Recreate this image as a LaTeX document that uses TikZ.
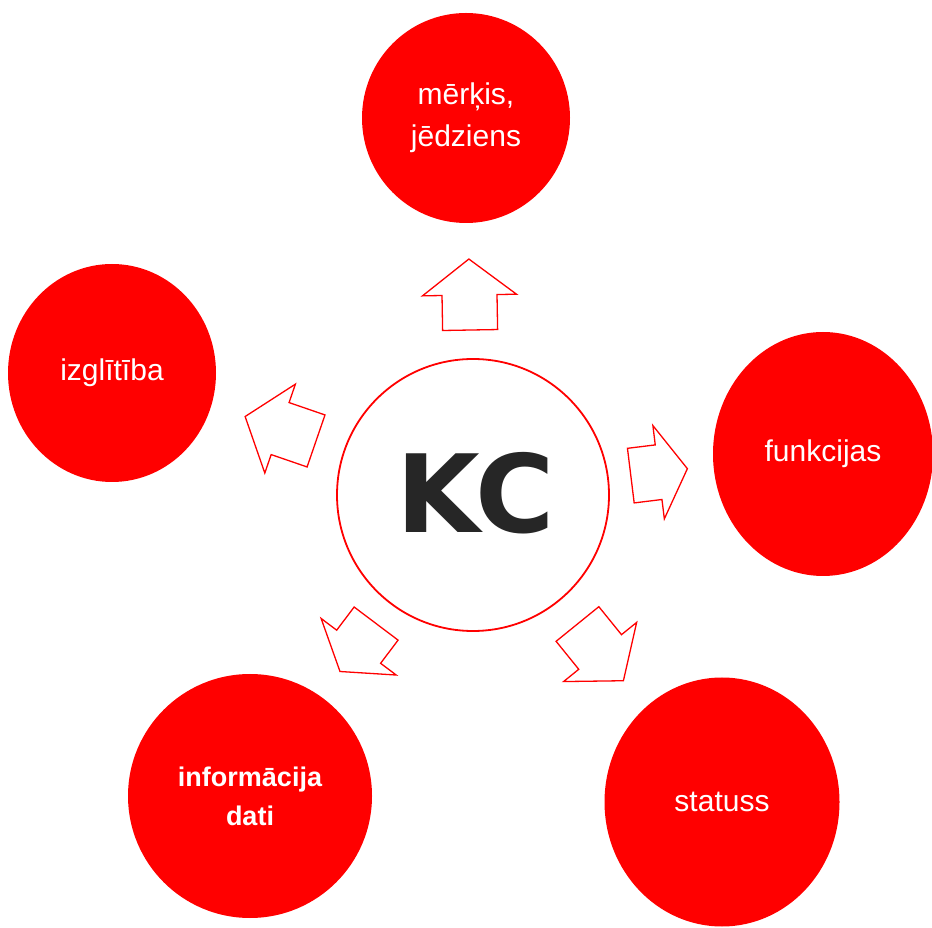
\documentclass[tikz,border=0pt]{standalone}
\usepackage{fontspec}
\setmainfont{Liberation Sans}
\newfontfamily\kcfont{DejaVu Sans}
\usetikzlibrary{shapes.geometric}
\definecolor{bubblered}{HTML}{FF0000}
\definecolor{kcgray}{HTML}{262626}

\begin{document}
\begin{tikzpicture}[x=1pt, y=1pt,
    bubble/.style={ellipse, fill=bubblered, inner sep=0pt, text=white, align=center,
                   font=\fontsize{30}{42}\selectfont},
    blockarrow/.style={draw=bubblered, line width=1.3pt, fill=white, line join=miter}]
  \useasboundingbox (0,0) rectangle (932,927);
  % centre
  \node[circle, draw=bubblered, line width=1.8pt, minimum size=272pt, inner sep=0pt] (kc) at (473,432) {};
  \node[font=\kcfont\bfseries\fontsize{108}{108}\selectfont, text=kcgray] (kclabel) at (476,434) {KC};
  % outer bubbles
  \node[bubble, minimum width=208pt, minimum height=210pt] (merkis) at (466,809) {mērķis,\\jēdziens};
  \node[bubble, minimum width=208pt, minimum height=218pt] (izglitiba) at (112,554) {izglītība};
  \node[bubble, minimum width=220pt, minimum height=244pt] (funkcijas) at (823,473) {funkcijas};
  \node[bubble, minimum width=244pt, minimum height=244pt,
        font=\bfseries\fontsize{27}{39}\selectfont] (informacija) at (250,131) {informācija\\dati};
  \node[bubble, minimum width=235pt, minimum height=249pt] (statuss) at (722,125) {statuss};
  % arrows
  \foreach \ang/\dist/\len/\hd in {91/165/71/36, 161/166/75/37, 7/159/57/29, 233/161/60/31, 309/166/73/37}{
    \begin{scope}[shift={(kc.center)}, rotate=\ang]
      \draw[blockarrow] (\dist,-27.5) -- ({\dist+\len-\hd},-27.5) -- ({\dist+\len-\hd},-47)
        -- ({\dist+\len},0) -- ({\dist+\len-\hd},47) -- ({\dist+\len-\hd},27.5) -- (\dist,27.5) -- cycle;
    \end{scope}
  }
\end{tikzpicture}
\end{document}
